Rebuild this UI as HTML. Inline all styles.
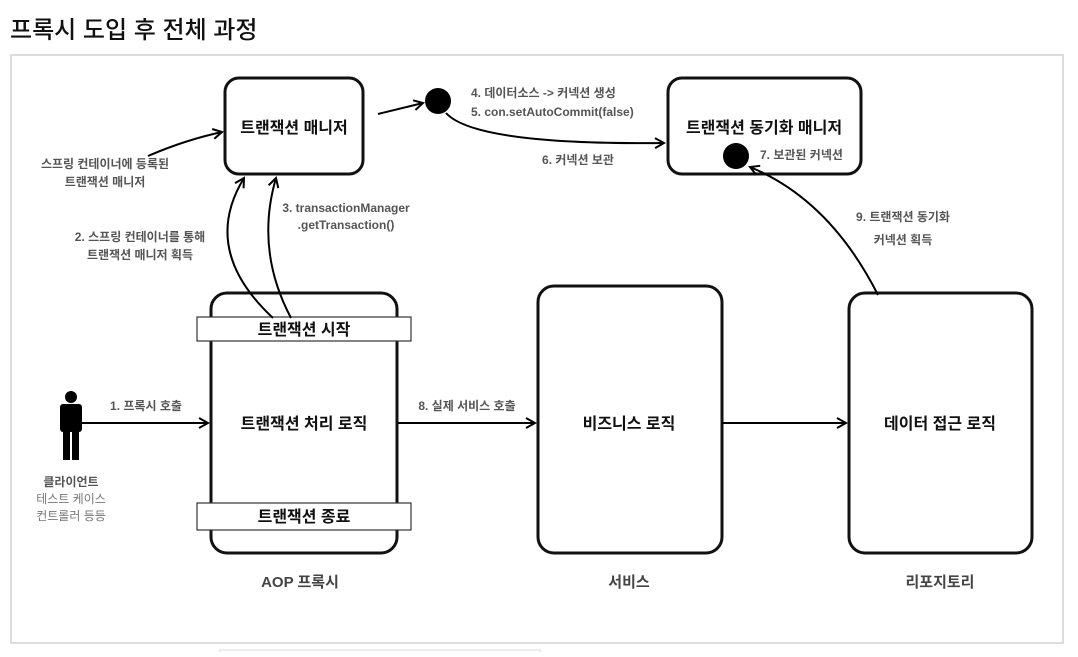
<!DOCTYPE html>
<html><head><meta charset="utf-8"><style>
body{margin:0;background:#fff;width:1078px;height:652px;overflow:hidden;font-family:"Liberation Sans","Noto Sans CJK KR",sans-serif}
</style></head><body>
<svg width="1078" height="652" xmlns="http://www.w3.org/2000/svg" font-family="'Liberation Sans','Noto Sans CJK KR',sans-serif">
<defs><marker id="a" markerWidth="12" markerHeight="12" refX="10" refY="6" orient="auto" markerUnits="userSpaceOnUse"><path d="M1,1 L10,6 L1,11" fill="none" stroke="#000" stroke-width="2"/></marker></defs>
<text x="10" y="38" font-size="24" font-weight="500" fill="#111">프록시 도입 후 전체 과정</text>
<rect x="11" y="55" width="1052" height="588" fill="#fff" stroke="#ddd" stroke-width="2"/>
<rect x="220" y="650" width="320" height="6" fill="none" stroke="#ddd"/>
<g fill="#fff" stroke="#111" stroke-width="3">
<rect x="225" y="78" width="138" height="96" rx="14"/>
<rect x="668" y="78" width="193" height="96" rx="14"/>
<rect x="211" y="293" width="186" height="260" rx="16"/>
<rect x="538" y="286" width="184" height="267" rx="16"/>
<rect x="849" y="293" width="183" height="260" rx="16"/>
</g>
<g fill="#fff" stroke="#333" stroke-width="1.2">
<rect x="197" y="317" width="214" height="24"/>
<rect x="197" y="503" width="214" height="27"/>
</g>
<g font-size="16" font-weight="bold" fill="#111" text-anchor="middle">
<text x="294" y="133">트랜잭션 매니저</text>
<text x="764" y="133">트랜잭션 동기화 매니저</text>
<text x="304" y="335">트랜잭션 시작</text>
<text x="304" y="522">트랜잭션 종료</text>
<text x="304" y="429">트랜잭션 처리 로직</text>
<text x="629" y="429">비즈니스 로직</text>
<text x="940" y="429">데이터 접근 로직</text>
</g>
<g font-size="15" font-weight="bold" fill="#444" text-anchor="middle">
<text x="300" y="587">AOP 프록시</text>
<text x="629" y="587">서비스</text>
<text x="940" y="587">리포지토리</text>
</g>
<circle cx="438" cy="101" r="13" fill="#000"/>
<circle cx="736" cy="156" r="13" fill="#000"/>
<g fill="none" stroke="#000" stroke-width="2" marker-end="url(#a)">
<path d="M148,156 Q185,140 222,132"/>
<path d="M378,114 L423,103"/>
<path d="M446,113 Q475,145 664,143"/>
<path d="M878,295 Q830,200 750,167"/>
<path d="M273,318 Q200,250 244,178"/>
<path d="M291,318 Q255,250 276,178"/>
<path d="M82,423 L208,423"/>
<path d="M398,423 L535,423"/>
<path d="M722,423 L846,423"/>
</g>
<g fill="#000">
<circle cx="71" cy="397" r="6"/>
<rect x="60" y="404" width="22" height="28" rx="3"/>
<rect x="63" y="430" width="7" height="30"/>
<rect x="72" y="430" width="7" height="30"/>
</g>
<g font-size="12" font-weight="bold" fill="#555" text-anchor="middle">
<text x="105" y="168">스프링 컨테이너에 등록된</text>
<text x="105" y="186">트랜잭션 매니저</text>
<text x="140" y="241">2. 스프링 컨테이너를 통해</text>
<text x="140" y="259">트랜잭션 매니저 획득</text>
<text x="346" y="212">3. transactionManager</text>
<text x="346" y="229">.getTransaction()</text>
<text x="578" y="164">6. 커넥션 보관</text>
<text x="903" y="221">9. 트랜잭션 동기화</text>
<text x="903" y="244">커넥션 획득</text>
<text x="146" y="410">1. 프록시 호출</text>
<text x="467" y="410">8. 실제 서비스 호출</text>
<text x="71" y="486">클라이언트</text>
</g>
<g font-size="12" font-weight="bold" fill="#555">
<text x="471" y="97">4. 데이터소스 -&gt; 커넥션 생성</text>
<text x="471" y="116">5. con.setAutoCommit(false)</text>
<text x="760" y="159">7. 보관된 커넥션</text>
</g>
<g font-size="12" fill="#777" text-anchor="middle">
<text x="71" y="503">테스트 케이스</text>
<text x="71" y="520">컨트롤러 등등</text>
</g>
</svg>
</body></html>
